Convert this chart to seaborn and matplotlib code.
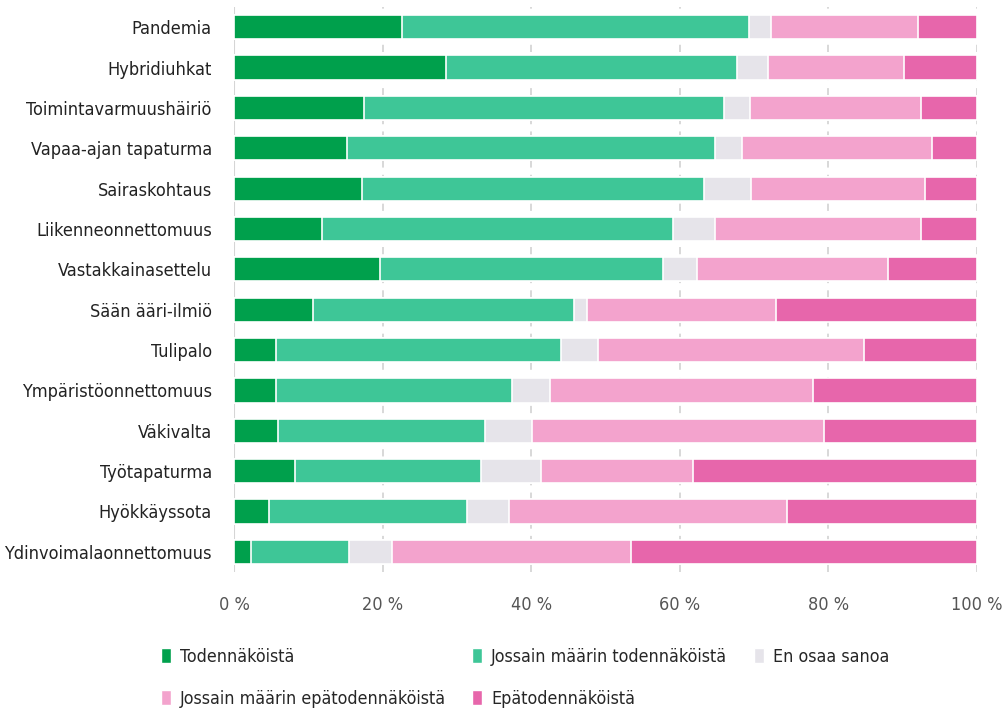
# Stacked 100 % bar chart of risk likelihood estimates
import numpy as np
import pandas as pd
import matplotlib.pyplot as plt
import seaborn as sns
from matplotlib.patches import Patch

# Data (percent shares)
categories = ['Pandemia', 'Hybridiuhkat', 'Toimintavarmuushäiriö', 'Vapaa-ajan tapaturma',
              'Sairaskohtaus', 'Liikenneonnettomuus', 'Vastakkainasettelu', 'Sään ääri-ilmiö',
              'Tulipalo', 'Ympäristöonnettomuus', 'Väkivalta', 'Työtapaturma',
              'Hyökkäyssota', 'Ydinvoimalaonnettomuus']
todennakoista = [22.6, 28.5, 17.5, 15.2, 17.2, 11.8, 19.7, 10.6, 5.7, 5.7, 5.9, 8.2, 4.7, 2.3]
jossain_tod = [46.7, 39.2, 48.4, 49.5, 46.1, 47.3, 38.0, 35.2, 38.3, 31.7, 27.9, 25.0, 26.7, 13.2]
en_osaa = [3.0, 4.2, 3.5, 3.7, 6.3, 5.6, 4.6, 1.7, 5.0, 5.1, 6.3, 8.1, 5.6, 5.8]
jossain_epa = [19.8, 18.3, 23.1, 25.5, 23.4, 27.8, 25.7, 25.4, 35.8, 35.4, 39.3, 20.5, 37.4, 32.1]
epatodennakoista = [7.9, 9.8, 7.5, 6.1, 7.0, 7.5, 12.0, 27.1, 15.2, 22.1, 20.6, 38.2, 25.6, 46.6]

series = ['Todennäköistä', 'Jossain määrin todennäköistä', 'En osaa sanoa',
          'Jossain määrin epätodennäköistä', 'Epätodennäköistä']
colors = ['#00A04C', '#3EC697', '#E6E4EA', '#F3A3CD', '#E766AB']
ticks = [0, 20, 40, 60, 80, 100]
tick_labels = ['0 %', '20 %', '40 %', '60 %', '80 %', '100 %']

df = pd.DataFrame({'kategoria': categories}).assign(
    **dict(zip(series, [todennakoista, jossain_tod, en_osaa, jossain_epa, epatodennakoista])))
cum = df[series].cumsum(axis=1)
cum['kategoria'] = df['kategoria']

sns.set_style('white')
plt.rcParams['font.family'] = ['DejaVu Sans']
plt.rcParams['font.stretch'] = 'condensed'

fig = plt.figure(figsize=(10.06, 7.13), dpi=100)
ax = fig.add_axes([234 / 1006, 1 - 572 / 713, (977 - 234) / 1006, (572 - 7) / 713])

# draw cumulative bars from the longest to the shortest so they stack
for name, col in reversed(list(zip(series, colors))):
    sns.barplot(data=cum, x=name, y='kategoria', color=col, saturation=1, orient='h',
                width=0.6, edgecolor='white', linewidth=1.2, ax=ax, zorder=3)

ax.set_xlim(0, 100)
ax.set_ylim(13.5, -0.5)
ax.set_xticks(ticks)
ax.set_xticklabels(tick_labels)
ax.set_xlabel('')
ax.set_ylabel('')
for t in ticks[1:]:
    ax.axvline(t, color='#D5D5D5', linestyle=(0, (4, 4)), linewidth=1.3, zorder=1)
ax.axvline(0, color='#D5D5D5', linewidth=1.5, zorder=1)
for s in ax.spines.values():
    s.set_visible(False)
ax.tick_params(axis='x', length=0, pad=17.5, labelsize=13, labelcolor='#555555')
ax.tick_params(axis='y', length=0, pad=16, labelsize=13, labelcolor='#222222')

handles = [Patch(facecolor=c, edgecolor='white', label=s) for s, c in zip(series, colors)]
order = [0, 3, 1, 4, 2]  # legend fills column by column
fig.legend([handles[i] for i in order], [series[i] for i in order], ncol=3,
           loc='upper left', bbox_to_anchor=(145 / 1006, 1 - 632 / 713), frameon=False,
           fontsize=12.8, handlelength=0.55, handleheight=0.9, handletextpad=0.5,
           columnspacing=1.5, labelspacing=1.35)

fig.savefig('out.png', dpi=100)
